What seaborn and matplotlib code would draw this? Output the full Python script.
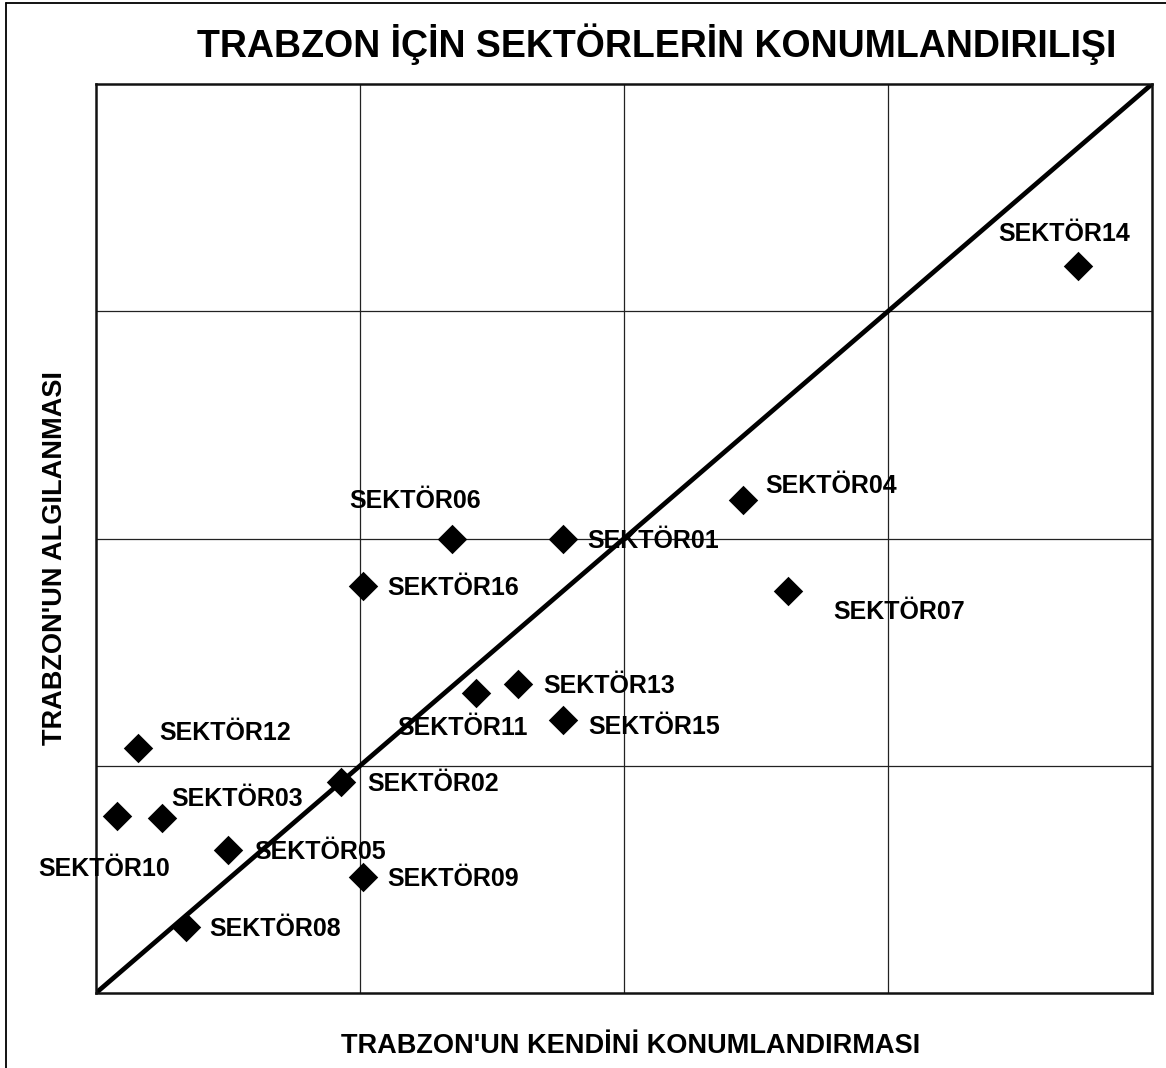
import numpy as np
import pandas as pd
import matplotlib
matplotlib.use('Agg')
import matplotlib.pyplot as plt
import seaborn as sns
from matplotlib.lines import Line2D

# data (axes run 0..4, no tick labels shown)
sectors = ['SEKTÖR01', 'SEKTÖR02', 'SEKTÖR03', 'SEKTÖR04', 'SEKTÖR05', 'SEKTÖR06',
           'SEKTÖR07', 'SEKTÖR08', 'SEKTÖR09', 'SEKTÖR10', 'SEKTÖR11', 'SEKTÖR12',
           'SEKTÖR13', 'SEKTÖR14', 'SEKTÖR15', 'SEKTÖR16']
kendini = [1.77, 0.93, 0.25, 2.45, 0.50, 1.35, 2.62, 0.34, 1.01, 0.08, 1.44, 0.16,
           1.60, 3.72, 1.77, 1.01]
algilanma = [2.00, 0.93, 0.77, 2.17, 0.63, 2.00, 1.77, 0.29, 0.51, 0.78, 1.32, 1.08,
             1.36, 3.20, 1.20, 1.79]
diag = [0, 4]

# label offsets in pixels (left edge of text, baseline) from the marker
label_dx = [24, 26, 9, 23, 26, -103, 46, 24, 25, -79, -79, 21, 25, -80, 25, 25]
label_dy = [-9, -9, 12, 7, -9, 31, -28, -9, -9, -60, -42, 8, -9, 25, -14, -9]

df = pd.DataFrame({'sektor': sectors, 'x': kendini, 'y': algilanma})

sns.set_style('white')
plt.rcParams['font.family'] = ['Liberation Sans', 'DejaVu Sans']
plt.rcParams['text.color'] = 'black'

fig = plt.figure(figsize=(11.66, 10.68), dpi=100)
ax = fig.add_axes([0.0823, 0.0702, 0.9057, 0.8511])

ax.plot(diag, diag, color='black', linewidth=3.4, solid_capstyle='round', zorder=2)
sns.scatterplot(data=df, x='x', y='y', marker='D', s=225, color='black',
                linewidth=0, ax=ax, zorder=3)

for name, x, y, dx, dy in zip(sectors, kendini, algilanma, label_dx, label_dy):
    ax.annotate(name, (x, y), xytext=(dx, dy), textcoords='offset pixels',
                ha='left', va='baseline', fontsize=18, fontweight='bold',
                color='black', zorder=4)

ax.set_xlim(0, 4)
ax.set_ylim(0, 4)
ax.set_xticks([1, 2, 3])
ax.set_yticks([1, 2, 3])
ax.tick_params(length=0, labelbottom=False, labelleft=False)
ax.grid(True, color='#222222', linewidth=0.9)
ax.set_xlabel('')
ax.set_ylabel('')
for sp in ax.spines.values():
    sp.set_visible(True)
    sp.set_color('#111111')
    sp.set_linewidth(1.8)

fig.text(0.5636, 1 - 57 / 1068, 'TRABZON İÇİN SEKTÖRLERİN KONUMLANDIRILIŞI',
         ha='center', va='baseline', fontsize=27, fontweight='bold', color='black')
fig.text(631 / 1166, 1 - 1053 / 1068, "TRABZON'UN KENDİNİ KONUMLANDIRMASI",
         ha='center', va='baseline', fontsize=19.5, fontweight='bold', color='black')
fig.text(55 / 1166, 1 - 558 / 1068, "TRABZON'UN ALGILANMASI",
         ha='center', va='center', rotation=90, fontsize=19.5, fontweight='bold',
         color='black')

# outer chart frame (right and bottom edges fall outside the image)
fig.add_artist(Line2D([5.5 / 1166, 5.5 / 1166], [0, 1 - 2.5 / 1068], color='black', linewidth=1.3))
fig.add_artist(Line2D([5.5 / 1166, 1], [1 - 2.5 / 1068, 1 - 2.5 / 1068], color='black', linewidth=1.3))

fig.savefig('out.png', dpi=100, facecolor='white')
